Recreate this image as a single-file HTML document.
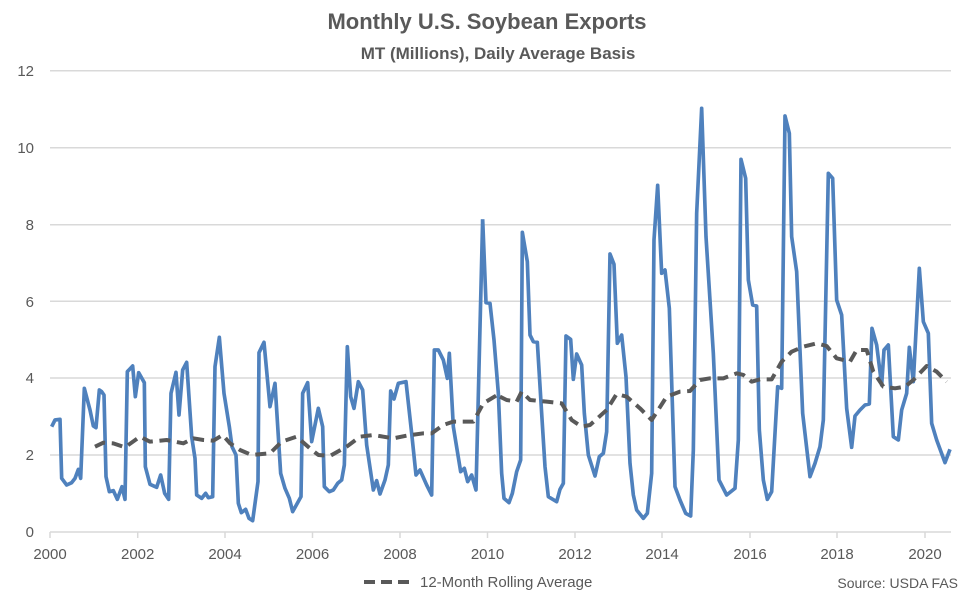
<!DOCTYPE html>
<html><head><style>
body{margin:0;background:#fff;}
svg{display:block;font-family:"Liberation Sans",Arial,sans-serif;}
</style></head><body>
<svg width="975" height="601" viewBox="0 0 975 601">
<rect width="975" height="601" fill="#fff"/>
<text x="487" y="29" text-anchor="middle" font-size="22" font-weight="bold" fill="#595959">Monthly U.S. Soybean Exports</text>
<text x="498" y="59" text-anchor="middle" font-size="17" font-weight="bold" fill="#595959">MT (Millions), Daily Average Basis</text>
<g stroke="#d9d9d9" stroke-width="1.5">
<line x1="50" y1="70.7" x2="951" y2="70.7"/><line x1="50" y1="147.7" x2="951" y2="147.7"/>
<line x1="50" y1="224.7" x2="951" y2="224.7"/><line x1="50" y1="301.3" x2="951" y2="301.3"/>
<line x1="50" y1="378" x2="951" y2="378"/><line x1="50" y1="455" x2="951" y2="455"/>
<line x1="50" y1="532" x2="951" y2="532"/>
<line x1="50" y1="532" x2="50" y2="538"/><line x1="137.7" y1="532" x2="137.7" y2="538"/>
<line x1="225" y1="532" x2="225" y2="538"/><line x1="312.5" y1="532" x2="312.5" y2="538"/>
<line x1="400" y1="532" x2="400" y2="538"/><line x1="487.5" y1="532" x2="487.5" y2="538"/>
<line x1="575" y1="532" x2="575" y2="538"/><line x1="662" y1="532" x2="662" y2="538"/>
<line x1="750" y1="532" x2="750" y2="538"/><line x1="837" y1="532" x2="837" y2="538"/>
<line x1="925" y1="532" x2="925" y2="538"/>
</g>
<g font-size="15" fill="#595959" text-anchor="end">
<text x="34" y="76">12</text><text x="34" y="153">10</text><text x="34" y="230">8</text>
<text x="34" y="307">6</text><text x="34" y="383">4</text><text x="34" y="460">2</text><text x="34" y="537">0</text>
</g>
<g font-size="15" fill="#595959" text-anchor="middle">
<text x="50" y="559">2000</text><text x="137.7" y="559">2002</text><text x="225" y="559">2004</text>
<text x="312.5" y="559">2006</text><text x="400" y="559">2008</text><text x="487.5" y="559">2010</text>
<text x="575" y="559">2012</text><text x="662" y="559">2014</text><text x="750" y="559">2016</text>
<text x="837" y="559">2018</text><text x="925" y="559">2020</text>
</g>
<g transform="translate(40,60) scale(0.33333)" fill="none" stroke-linejoin="round">
<polyline stroke="#4f81bd" stroke-width="11" points="35,1100 45,1080 60,1078 65,1255 80,1275 95,1268 105,1255 115,1228 122,1255 133,985 150,1050 160,1098 168,1103 178,990 185,995 192,1005 198,1250 208,1295 220,1292 232,1318 246,1280 255,1318 262,935 278,918 286,1010 296,938 313,968 316,1220 330,1273 350,1282 362,1245 374,1300 386,1318 393,1000 408,937 417,1065 428,930 440,907 455,1130 465,1195 470,1305 485,1315 497,1300 505,1313 518,1310 525,920 538,832 552,1000 568,1100 576,1160 588,1185 595,1330 604,1358 617,1348 627,1375 638,1382 654,1265 657,878 672,847 690,1040 705,970 722,1240 735,1285 748,1315 758,1355 783,1310 788,1000 803,968 815,1145 835,1045 848,1100 853,1280 868,1295 880,1290 893,1270 905,1260 913,1215 922,860 932,1010 942,1045 955,965 968,990 980,1155 1000,1290 1010,1262 1020,1302 1035,1260 1045,1215 1052,993 1062,1017 1075,970 1098,965 1115,1120 1128,1245 1140,1230 1160,1275 1175,1305 1183,870 1195,870 1210,900 1222,955 1228,880 1240,1100 1262,1235 1273,1225 1283,1265 1295,1245 1308,1290 1328,478"/>
<polyline stroke="#595959" stroke-width="12" stroke-dasharray="33,20" points="165,1160 190,1148 220,1150 255,1162 300,1130 330,1145 380,1140 430,1150 460,1135 490,1140 520,1142 548,1125 570,1150 600,1170 635,1185 690,1180 725,1145 770,1130 810,1165 835,1185 870,1188 920,1160 960,1130 1000,1125 1030,1130 1060,1135 1100,1127 1150,1120 1175,1120 1210,1095 1240,1085 1300,1085 1330,1030 1380,1000"/>
</g>
<g transform="translate(480,60) scale(0.33333)" fill="none" stroke-linejoin="round">
<polyline stroke="#4f81bd" stroke-width="11" points="8,478 18,728 30,730 42,840 55,1000 65,1240 72,1315 87,1328 97,1300 110,1235 122,1200 127,517 142,605 150,825 160,845 172,847 185,1060 195,1220 205,1310 230,1325 240,1288 250,1270 258,828 272,838 280,958 290,882 305,915 313,1060 325,1185 345,1248 358,1190 370,1180 380,1115 390,582 402,613 412,850 425,825 438,950 450,1210 460,1305 470,1350 490,1375 502,1360 515,1240 522,540 533,376 545,640 555,630 568,745 585,1280 600,1320 617,1360 632,1368 640,1170 650,460 665,145 678,530 700,880 717,1260 740,1305 765,1285 775,1140 783,298 797,355 805,660 818,735 830,738 838,1110 850,1260 862,1318 875,1295 893,980 905,985 915,168 928,220 935,530 950,635 968,1060 990,1250 1005,1210 1020,1160 1030,1080 1045,340 1058,355 1070,720 1085,765 1100,1045 1115,1162 1125,1068 1140,1050 1155,1035 1168,1032 1176,805 1190,855 1205,975 1212,870 1225,855 1240,1130 1255,1140 1265,1050 1280,1000 1288,862 1300,965 1318,625 1330,785 1345,820 1355,1090 1370,1140 1395,1208 1410,1168"/>
<polyline stroke="#595959" stroke-width="12" stroke-dasharray="33,20" points="60,1010 80,1020 110,1025 125,995 150,1020 200,1025 245,1030 275,1080 305,1100 330,1095 380,1050 410,1002 440,1010 480,1045 515,1080 560,1010 600,995 630,993 660,960 690,955 730,955 770,940 790,945 815,965 840,958 875,958 905,905 935,875 970,860 1010,850 1040,858 1070,895 1110,905 1130,870 1160,870 1180,935 1210,980 1245,985 1275,980 1300,960 1340,918 1370,935 1400,965"/>
</g>
<line x1="364" y1="582" x2="412" y2="582" stroke="#595959" stroke-width="4" stroke-dasharray="11,6"/>
<text x="420" y="587" font-size="15" fill="#595959">12-Month Rolling Average</text>
<text x="958" y="588" font-size="14" fill="#595959" text-anchor="end">Source: USDA FAS</text>
</svg>
</body></html>
